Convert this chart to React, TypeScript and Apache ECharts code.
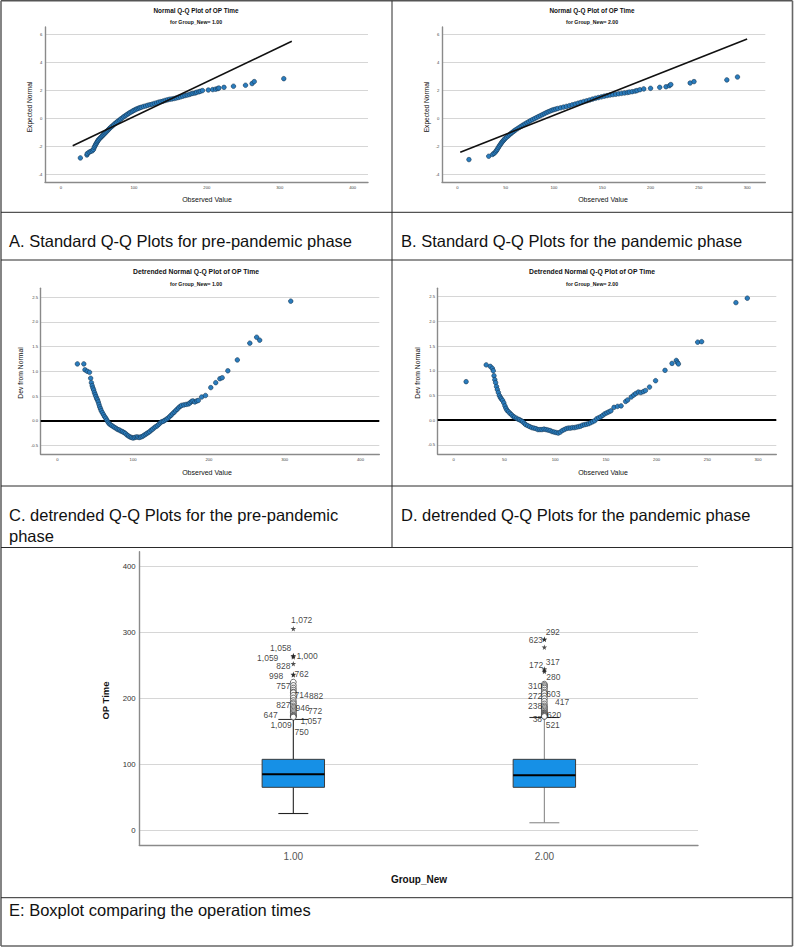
import React, { useEffect, useRef } from "react";
import * as echarts from "echarts";

const FONT = "'Liberation Sans', Arial, Helvetica, sans-serif";

// ---------- Normal Q-Q plots: [observed OP time, expected normal value] ----------
const qqPre: number[][] = [
  [26.5, -2.83], [35.5, -2.62], [36, -2.52], [38.5, -2.42], [41, -2.36], [43, -2.31],
  [44.5, -2.22], [45.5, -2.08], [46.5, -1.98], [47.5, -1.88], [48.5, -1.78], [49.5, -1.69],
  [50.5, -1.61], [51.5, -1.53], [53, -1.45], [54.5, -1.37], [56, -1.29], [57.5, -1.21],
  [59, -1.13], [60.5, -1.05], [62, -0.97], [63.5, -0.89], [65, -0.81], [66.5, -0.73],
  [68, -0.65], [70, -0.56], [72, -0.47], [74, -0.38], [76, -0.29], [78, -0.21],
  [80, -0.13], [82, -0.05], [84, 0.03], [86, 0.11], [88, 0.18], [90, 0.25],
  [92, 0.32], [94, 0.39], [96, 0.45], [98, 0.51], [100, 0.57], [102, 0.62],
  [104, 0.67], [106, 0.71], [108, 0.75], [110, 0.79], [113, 0.84], [116, 0.88],
  [119, 0.93], [122, 0.97], [125, 1.01], [128, 1.06], [131, 1.1], [134, 1.15],
  [137, 1.19], [140, 1.23], [143, 1.28], [146, 1.32], [149, 1.36], [152, 1.38],
  [155, 1.41], [158, 1.45], [161, 1.49], [164, 1.53], [167, 1.58], [170, 1.62],
  [173, 1.66], [176, 1.7], [178.5, 1.75], [181, 1.78], [184, 1.81], [186, 1.86],
  [189, 1.89], [191, 1.93], [194, 1.98], [202, 2.02], [208, 2.05], [212, 2.08],
  [215, 2.12], [216.5, 2.16], [223.5, 2.21], [236.5, 2.29], [253, 2.36], [262, 2.48],
  [265, 2.62], [305.5, 2.83],
];
const qqPandemic: number[][] = [
  [12, -2.95], [32.5, -2.71], [36.5, -2.58], [38, -2.5], [39.5, -2.4], [40.5, -2.3],
  [41.5, -2.2], [42.5, -2.08], [43.5, -1.97], [44.5, -1.87], [45.5, -1.77], [46.5, -1.68],
  [47.5, -1.6], [48.5, -1.52], [49.5, -1.44], [51, -1.35], [52.5, -1.26], [54, -1.17],
  [55.5, -1.08], [57, -1.0], [58.5, -0.92], [60, -0.84], [62, -0.75], [64, -0.66],
  [66, -0.57], [68, -0.48], [70, -0.4], [72, -0.32], [74, -0.24], [76, -0.16],
  [78, -0.09], [80, -0.02], [82, 0.05], [84, 0.12], [86, 0.19], [88, 0.26],
  [90, 0.33], [92, 0.4], [94, 0.46], [96, 0.52], [98, 0.58], [100, 0.62],
  [102, 0.66], [104, 0.7], [107, 0.75], [110, 0.8], [113, 0.85], [116, 0.9],
  [119, 0.96], [122, 1.02], [125, 1.08], [128, 1.14], [131, 1.2], [134, 1.25],
  [137, 1.31], [140, 1.37], [143, 1.43], [146, 1.48], [149, 1.53], [152, 1.58],
  [155, 1.62], [158, 1.66], [161, 1.69], [164, 1.72], [167, 1.75], [170, 1.78],
  [173, 1.81], [176, 1.84], [178, 1.87], [181, 1.9], [184, 1.94], [186, 1.98],
  [189, 2.04], [193, 2.1], [200, 2.14], [209.5, 2.21], [216, 2.25], [219.5, 2.33],
  [221, 2.41], [241, 2.52], [245, 2.62], [279, 2.74], [290, 2.95],
];
// reference lines of the normal distribution (end points)
const qqPreLine: number[][] = [[16, -1.96], [316.5, 5.5]];
const qqPandemicLine: number[][] = [[3, -2.43], [300, 5.67]];

// ---------- Detrended Q-Q plots: [observed OP time, deviation from normal] ----------
const dqPre: number[][] = [
  [26.5, 1.15], [35, 1.15], [36.5, 1.03], [39.5, 1.0], [42.5, 0.98], [44, 0.86],
  [45, 0.77], [46, 0.71], [47, 0.66], [48, 0.62], [49, 0.57], [50, 0.53],
  [51, 0.49], [52, 0.45], [53, 0.42], [54, 0.38], [55, 0.33], [56, 0.28],
  [57, 0.24], [58, 0.2], [59.5, 0.16], [61, 0.12], [62.5, 0.08], [64, 0.05],
  [65.5, 0.01], [67, -0.03], [68.5, -0.06], [70, -0.08], [72, -0.1], [74, -0.12],
  [76, -0.14], [78, -0.16], [80, -0.18], [82, -0.19], [84, -0.21], [86, -0.22],
  [88, -0.24], [90, -0.26], [92, -0.29], [94, -0.31], [96, -0.33], [98, -0.34],
  [100, -0.35], [102, -0.34], [104, -0.33], [106, -0.33], [108, -0.34], [110, -0.33],
  [112, -0.32], [114, -0.3], [116, -0.28], [118, -0.26], [120, -0.24], [122, -0.22],
  [124, -0.19], [126, -0.17], [128, -0.14], [130, -0.12], [132, -0.1], [134, -0.07],
  [136, -0.04], [138, -0.02], [140, -0.01], [142, 0.01], [144, 0.03], [146, 0.05],
  [148, 0.08], [150, 0.11], [152, 0.14], [154, 0.17], [156, 0.2], [158, 0.23],
  [160, 0.26], [162, 0.29], [164, 0.31], [167, 0.32], [170, 0.33], [173, 0.34],
  [175, 0.36], [177, 0.39], [179, 0.4], [181.5, 0.38], [184, 0.4], [186, 0.41],
  [190.5, 0.48], [195.5, 0.51], [202.5, 0.67], [209, 0.77], [214.5, 0.85], [217.5, 0.87],
  [225, 1.01], [237.5, 1.23], [254, 1.57], [263, 1.69], [267, 1.63], [308, 2.42],
];
const dqPandemic: number[][] = [
  [12.2, 0.78], [32, 1.12], [36, 1.09], [38, 1.05], [39, 1.0], [39.7, 0.9],
  [40.5, 0.82], [41.3, 0.76], [42.2, 0.68], [43, 0.62], [44, 0.56], [45, 0.5],
  [46, 0.46], [47, 0.43], [48.2, 0.4], [49.4, 0.35], [50.5, 0.29], [51.5, 0.24],
  [52.6, 0.2], [54, 0.17], [55.5, 0.14], [57, 0.11], [58.5, 0.08], [60, 0.06],
  [61.8, 0.04], [63.5, 0.02], [65, 0.01], [66.5, -0.01], [68, -0.03], [69.5, -0.06],
  [71, -0.09], [73, -0.11], [75, -0.13], [77, -0.15], [79, -0.16], [81, -0.17],
  [83, -0.19], [85, -0.19], [87, -0.19], [89, -0.18], [91, -0.19], [93, -0.2],
  [95, -0.21], [97, -0.23], [99, -0.24], [101, -0.25], [103, -0.26], [105, -0.24],
  [107, -0.21], [109, -0.19], [111, -0.17], [113, -0.16], [115, -0.16], [117, -0.15],
  [119, -0.15], [121, -0.14], [123, -0.13], [125, -0.12], [127, -0.1], [129, -0.09],
  [131, -0.08], [133, -0.07], [135, -0.05], [137, -0.03], [139, -0.01], [141, 0.03],
  [143, 0.05], [145, 0.07], [147, 0.1], [149, 0.13], [151, 0.15], [153, 0.17],
  [155, 0.19], [158, 0.26], [161.5, 0.28], [165, 0.29], [169.5, 0.38], [171.5, 0.41],
  [175, 0.47], [177.5, 0.51], [179.5, 0.54], [182, 0.57], [184.5, 0.56], [187, 0.58],
  [189, 0.6], [193, 0.67], [199, 0.8], [208.3, 1.01], [215.2, 1.15], [219.4, 1.21],
  [220.5, 1.17], [221.5, 1.14], [240.5, 1.58], [244.4, 1.59], [278.2, 2.38], [289.4, 2.47],
];

// ---------- Boxplot of OP Time by Group_New ----------
const groupNames = ["1.00", "2.00"];
const groupPositions = [1, 2];
const whiskerLow = [26, 12];
const quartile1 = [65.7, 65.7];
const medians = [85.4, 83.8];
const quartile3 = [108.1, 108.1];
const whiskerHigh = [168.5, 171.5];

// outliers (circles) and extreme values (stars) with their case numbers
const outliersPre = [225, 220, 216, 213, 210, 209, 205, 201, 197, 194, 192, 189, 187, 185, 183, 181, 179, 177, 175, 174, 173, 172];
const outlierCasesPre = ["757", "", "", "", "714", "882", "", "", "", "", "827", "946", "772", "", "", "647", "", "", "", "750", "1,057", "1,009"];
const extremesPre = [306, 265, 265, 263, 253, 237, 236];
const extremeCasesPre = ["1,072", "1,058", "1,000", "1,059", "828", "998", "762"];

const outliersPandemic = [222, 220, 218, 216, 213, 210, 208, 204, 200, 196, 192, 189, 187, 185, 183, 181, 179, 178, 177, 176, 175, 174, 173];
const outlierCasesPandemic = ["310", "", "", "", "", "603", "272", "", "", "417", "238", "", "", "", "", "", "", "620", "", "", "38", "521", ""];
const extremesPandemic = [290, 290, 278, 245, 243, 241];
const extremeCasesPandemic = ["292", "623", "", "317", "172", "280"];

// where each case number sits relative to its point (px)
const caseLabelOffsets: Record<string, number[]> = {
  "1,072": [8.4, -8.7], "1,058": [-12.6, -7.5], "1,000": [13.7, 0.2], "1,059": [-25.6, 1.2],
  "828": [-10, 2.3], "998": [-17.3, 1.4], "762": [8.4, -1], "757": [-10, 3.8],
  "714": [8.4, 2.9], "882": [22.7, 3.2], "827": [-10, 1], "946": [9.4, 2.3],
  "772": [21.7, 3.7], "647": [-22.6, 3.8], "750": [8.4, 15.8], "1,057": [17.7, 4.8],
  "1,009": [-12.3, 7.5],
  "292": [8.4, -7.6], "623": [-8.6, 0.7], "317": [8.4, -7.3], "172": [-8.3, -5.3],
  "280": [9, 5.4], "310": [-9.3, 1.8], "603": [9, 1.6], "272": [-9.3, 2.3],
  "417": [17.7, 1], "238": [-9.3, 1.7], "620": [9.7, 1.5], "38": [-7, 3.8], "521": [8.4, 9.1],
};

const STAR = "path://M50,0 L61,35 L98,35 L68,57 L79,91 L50,70 L21,91 L32,57 L2,35 L39,35 Z";

const isStep = (v: number, step: number) => Math.abs(v / step - Math.round(v / step)) < 1e-6;

function axis(
  gridIndex: number,
  min: number,
  max: number,
  step: number,
  fmt: (v: number) => string,
  label: any,
  grid: boolean
) {
  return {
    type: "value",
    gridIndex,
    min,
    max,
    minInterval: step,
    maxInterval: step,
    axisLine: { show: true, onZero: false, lineStyle: { color: "#8a8a8a", width: 1.4 } },
    axisTick: { show: false },
    splitLine: {
      show: grid,
      showMinLine: false,
      showMaxLine: false,
      lineStyle: { color: "#d6d6d6", width: 1 },
    },
    axisLabel: {
      showMinLabel: false,
      showMaxLabel: false,
      fontFamily: FONT,
      ...label,
      formatter: (v: number) => (isStep(v, step) ? fmt(Math.round(v / step) * step) : ""),
    },
  };
}

const tinyX = { fontSize: 4.2, color: "#444", margin: 3.5 };
const tinyY = { fontSize: 4.2, color: "#444", margin: 2.6 };

function qqPoints(xAxisIndex: number, data: number[][]) {
  return {
    type: "scatter",
    xAxisIndex,
    yAxisIndex: xAxisIndex,
    data,
    symbolSize: 4.6,
    itemStyle: { color: "#2a7cbd", borderColor: "#10283f", borderWidth: 0.5, opacity: 1 },
    silent: true,
    z: 3,
  };
}

function caseSeries(pos: number, values: number[], ids: string[], extreme: boolean) {
  return {
    type: "scatter",
    xAxisIndex: 4,
    yAxisIndex: 4,
    symbol: extreme ? STAR : "circle",
    symbolSize: extreme ? 5.5 : 5.8,
    itemStyle: extreme
      ? { color: "#222" }
      : { color: "#ffffff", borderColor: "#333", borderWidth: 0.9 },
    label: {
      show: true,
      position: "inside",
      fontSize: 8.5,
      fontFamily: FONT,
      color: "#111",
      formatter: (p: any) => ids[p.dataIndex] || "",
    },
    // case numbers are nudged beside their symbols
    labelLayout: (p: any) => {
      const off = caseLabelOffsets[ids[p.dataIndex]] || [0, 0];
      return { dx: off[0], dy: off[1], hideOverlap: false };
    },
    data: values.map((v) => [pos, v]),
    silent: true,
    z: 5,
  };
}

function text(
  t: string,
  x: number,
  y: number,
  size: number,
  opts: { bold?: boolean; align?: string; rotate?: boolean; color?: string } = {}
) {
  return {
    type: "text",
    x,
    y,
    rotation: opts.rotate ? Math.PI / 2 : 0,
    silent: true,
    style: {
      text: t,
      fontSize: size,
      fontFamily: FONT,
      fontWeight: opts.bold ? "bold" : "normal",
      fill: opts.color || "#111",
      align: opts.align || "center",
      verticalAlign: "middle",
    },
  };
}

function rule(x1: number, y1: number, x2: number, y2: number, color = "#2a2a2a", w = 1) {
  return { type: "line", silent: true, shape: { x1, y1, x2, y2 }, style: { stroke: color, lineWidth: w } };
}

function buildOption() {
  const boxData = groupPositions.map((p, i) => [p, whiskerLow[i], quartile1[i], medians[i], quartile3[i], whiskerHigh[i]]);
  const BOX_WIDTH = 0.2486;

  const graphic: any[] = [
    // table frame
    rule(1, 0.8, 792.5, 0.8, "#555", 1.5),
    rule(1, 0.8, 1, 946, "#666", 1.6),
    rule(792.5, 0.8, 792.5, 946, "#666", 1.6),
    rule(1, 946, 792.5, 946, "#666", 1.6),
    rule(1, 212.3, 792.5, 212.3),
    rule(1, 260, 792.5, 260),
    rule(1, 486, 792.5, 486),
    rule(1, 547.5, 792.5, 547.5),
    rule(1, 897.7, 792.5, 897.7),
    rule(392, 0.8, 392, 547.5),

    // panel titles
    text("Normal Q-Q Plot of OP Time", 196, 10.7, 6.4, { bold: true }),
    text("for Group_New= 1.00", 196, 22.3, 5.2, { bold: true }),
    text("Normal Q-Q Plot of OP Time", 592, 10.7, 6.4, { bold: true }),
    text("for Group_New= 2.00", 592, 22.3, 5.2, { bold: true }),
    text("Detrended Normal Q-Q Plot of OP Time", 196, 271, 6.8, { bold: true }),
    text("for Group_New= 1.00", 196, 284.3, 5.2, { bold: true }),
    text("Detrended Normal Q-Q Plot of OP Time", 592, 271, 6.8, { bold: true }),
    text("for Group_New= 2.00", 592, 284.3, 5.2, { bold: true }),

    // axis names
    text("Expected Normal", 29, 107, 6.6, { rotate: true }),
    text("Expected Normal", 426, 107, 6.6, { rotate: true }),
    text("Observed Value", 207, 199.3, 7),
    text("Observed Value", 603, 199.3, 7),
    text("Dev from Normal", 20, 373, 6.8, { rotate: true }),
    text("Dev from Normal", 417, 373, 6.8, { rotate: true }),
    text("Observed Value", 207, 472.5, 7),
    text("Observed Value", 603, 472.5, 7),
    text("OP Time", 105.5, 700.5, 9.5, { bold: true, rotate: true }),
    text("Group_New", 419, 879, 10, { bold: true }),

    // captions
    text("A. Standard Q-Q Plots for pre-pandemic phase", 9, 241, 16.5, { align: "left" }),
    text("B. Standard Q-Q Plots for the pandemic phase", 401, 241, 16.5, { align: "left" }),
    text("C. detrended Q-Q Plots for the pre-pandemic", 9, 514.5, 16.5, { align: "left" }),
    text("phase", 9, 536, 16.5, { align: "left" }),
    text("D. detrended Q-Q Plots for the pandemic phase", 401, 514.5, 16.5, { align: "left" }),
    text("E: Boxplot comparing the operation times", 9, 909.5, 16.5, { align: "left" }),
  ];

  const intFmt = (v: number) => String(v);
  const oneDec = (v: number) => v.toFixed(1);

  return {
    animation: false,
    backgroundColor: "#ffffff",
    textStyle: { fontFamily: FONT },
    grid: [
      { left: 45, top: 27, width: 323, height: 155 },
      { left: 442, top: 27, width: 323.3, height: 155 },
      { left: 40.7, top: 288.3, width: 338.6, height: 166 },
      { left: 437.7, top: 288.3, width: 338.6, height: 166 },
      { left: 139.3, top: 551.7, width: 558.7, height: 293.3 },
    ],
    xAxis: [
      axis(0, -22, 421, 100, intFmt, tinyX, false),
      axis(1, -15.9, 318.8, 50, intFmt, tinyX, false),
      axis(2, -21.9, 424.8, 100, intFmt, tinyX, false),
      axis(3, -15.8, 318, 50, intFmt, tinyX, false),
      axis(4, 0.3865, 2.612, 1, (v) => groupNames[groupPositions.indexOf(v)] || "", { fontSize: 10, color: "#555", margin: 6.5 }, false),
    ],
    yAxis: [
      axis(0, -4.55, 6.52, 2, intFmt, tinyY, true),
      axis(1, -4.55, 6.52, 2, intFmt, tinyY, true),
      axis(2, -0.68, 2.68, 0.5, oneDec, tinyY, true),
      axis(3, -0.69, 2.67, 0.5, oneDec, tinyY, true),
      axis(4, -21.7, 422.7, 100, intFmt, { fontSize: 7.8, color: "#333", margin: 3.6 }, true),
    ],
    graphic,
    series: [
      qqPoints(0, qqPre),
      {
        type: "line", xAxisIndex: 0, yAxisIndex: 0, data: qqPreLine, symbol: "none",
        lineStyle: { color: "#111", width: 1.6 }, silent: true, z: 4,
      },
      qqPoints(1, qqPandemic),
      {
        type: "line", xAxisIndex: 1, yAxisIndex: 1, data: qqPandemicLine, symbol: "none",
        lineStyle: { color: "#111", width: 1.6 }, silent: true, z: 4,
      },
      {
        ...qqPoints(2, dqPre),
        markLine: {
          silent: true, symbol: "none", label: { show: false },
          lineStyle: { color: "#000", width: 2, type: "solid" },
          data: [{ yAxis: 0 }],
          z: 2,
        },
      },
      {
        ...qqPoints(3, dqPandemic),
        markLine: {
          silent: true, symbol: "none", label: { show: false },
          lineStyle: { color: "#000", width: 2, type: "solid" },
          data: [{ yAxis: 0 }],
          z: 2,
        },
      },
      {
        type: "custom",
        xAxisIndex: 4,
        yAxisIndex: 4,
        data: boxData,
        encode: { x: 0, y: [1, 2, 3, 4, 5] },
        silent: true,
        z: 3,
        renderItem: (params: any, api: any) => {
          const x = api.value(0);
          const pLo = api.coord([x, api.value(1)]);
          const pQ1 = api.coord([x, api.value(2)]);
          const pMed = api.coord([x, api.value(3)]);
          const pQ3 = api.coord([x, api.value(4)]);
          const pHi = api.coord([x, api.value(5)]);
          const cx = pLo[0];
          const half = api.size([BOX_WIDTH, 0])[0] / 2;
          const cap = half * 0.48;
          const wc = params.dataIndex === 0 ? "#222" : "#8a8a8a";
          const seg = (x1: number, y1: number, x2: number, y2: number, stroke: string, lineWidth: number) => ({
            type: "line", shape: { x1, y1, x2, y2 }, style: { stroke, lineWidth },
          });
          return {
            type: "group",
            children: [
              seg(cx, pLo[1], cx, pQ1[1], wc, 1.1),
              seg(cx, pHi[1], cx, pQ3[1], wc, 1.1),
              seg(cx - cap, pLo[1], cx + cap, pLo[1], wc, 1.1),
              seg(cx - cap, pHi[1], cx + cap, pHi[1], "#333", 1.1),
              {
                type: "rect",
                shape: { x: cx - half, y: pQ3[1], width: half * 2, height: pQ1[1] - pQ3[1] },
                style: { fill: "#1690e6", stroke: "#3c3c3c", lineWidth: 1 },
              },
              seg(cx - half, pMed[1], cx + half, pMed[1], "#000", 2),
            ],
          };
        },
      },
      caseSeries(groupPositions[0], outliersPre, outlierCasesPre, false),
      caseSeries(groupPositions[0], extremesPre, extremeCasesPre, true),
      caseSeries(groupPositions[1], outliersPandemic, outlierCasesPandemic, false),
      caseSeries(groupPositions[1], extremesPandemic, extremeCasesPandemic, true),
    ],
  };
}

export default function App() {
  const ref = useRef<HTMLDivElement>(null);

  useEffect(() => {
    if (!ref.current) return;
    const chart = echarts.init(ref.current, undefined, { renderer: "svg" });
    chart.setOption(buildOption() as any);
    return () => chart.dispose();
  }, []);

  return (
    <div
      ref={ref}
      style={{ position: "absolute", left: 0, top: 0, width: 794, height: 947, background: "#fff" }}
    />
  );
}
